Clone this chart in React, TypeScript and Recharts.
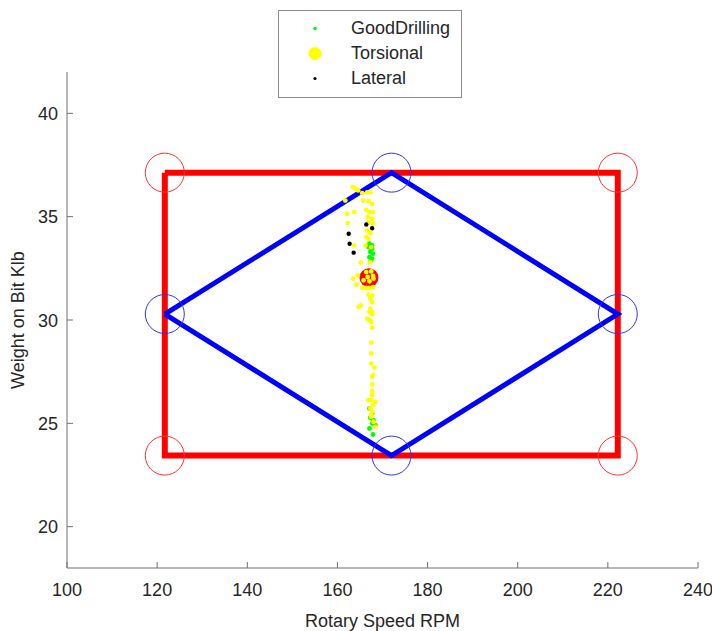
import { ScatterChart, Scatter, XAxis, YAxis, Legend } from 'recharts';

const FONT = '"Liberation Sans", Arial, sans-serif';
const TEXT = '#262626';
const AXIS = '#707070';

// axes
const rpmTicks = [100, 120, 140, 160, 180, 200, 220, 240];
const wobTicks = [20, 25, 30, 35, 40];

// operating window (rectangle) and diamond corners
const boxRpm = [121.7, 222.2, 222.2, 121.7, 121.7];
const boxWob = [37.13, 37.13, 23.44, 23.44, 37.13];
const diamondRpm = [121.7, 172, 222.2, 172, 121.7];
const diamondWob = [30.29, 37.13, 30.29, 23.44, 30.29];

// current operating point
const currentRpm = [167.0];
const currentWob = [32.05];

// scatter data
const goodRpm = [167.1, 167.7, 166.9, 167.1, 167.7, 167.3, 167.9, 167.1, 167.7, 167.3,
  167.1, 167.7, 167.3, 168.0, 167.7, 167.1, 167.9, 168.4];
const goodWob = [33.69, 33.61, 33.53, 33.53, 33.45, 33.29, 33.21, 33.04, 32.97, 32.84,
  25.72, 25.48, 25.27, 25.15, 25.0, 24.75, 24.46, 24.91];

const torsionalRpm = [163.4, 164.0, 164.6, 165.5, 166.6, 167.3, 161.75, 165.7, 166.9, 167.7,
  162.1, 163.7, 166.4, 167.1, 167.9, 166.7, 167.7, 166.9, 167.9, 162.3,
  166.6, 167.3, 166.4, 166.9, 163.7, 166.2, 167.5, 165.2, 167.3,
  166.4, 167.5, 166.7, 167.9, 165.8, 167.1, 168.0,
  163.5, 164.5, 164.2, 165.5, 166.4, 167.1, 167.9, 166.9, 167.7, 167.3,
  167.7, 164.7, 165.2, 167.3, 167.7, 167.1, 167.7, 166.6, 167.1, 167.5,
  167.7, 167.5, 167.5, 167.5, 168.2, 167.9, 167.7, 167.7, 167.7, 167.7,
  167.5, 168.4, 166.9, 167.9, 167.3, 167.7, 167.5, 168.0, 168.4, 167.5];
const torsionalWob = [36.43, 36.36, 36.27, 36.14, 36.18, 36.18, 35.78, 35.78, 35.75, 35.62,
  35.14, 35.22, 35.33, 35.22, 35.22, 34.98, 34.9, 34.73, 34.66, 34.69,
  34.33, 34.2, 34.01, 33.93, 33.61, 33.61, 33.53, 32.77, 32.8,
  32.32, 32.35, 32.08, 32.13, 31.92, 31.87, 32.0,
  32.0, 32.16, 31.71, 31.55, 31.55, 31.55, 31.59, 31.23, 31.19, 31.03,
  30.87, 30.63, 30.71, 30.55, 30.39, 30.39, 30.28, 30.07, 29.99, 29.9,
  29.63, 28.91, 28.38, 27.89, 27.7, 27.33, 27.25, 26.88, 26.56, 26.36,
  26.12, 26.04, 26.12, 25.88, 25.72, 25.56, 25.31, 25.07, 24.83, 25.4];

const lateralRpm = [166.4, 167.7, 162.5, 162.7, 163.6];
const lateralWob = [34.62, 34.44, 34.17, 33.69, 33.26];

const toPoints = (xs: number[], ys: number[]) => xs.map((x, i) => ({ x, y: ys[i] }));

const boxData = toPoints(boxRpm, boxWob);
const diamondData = toPoints(diamondRpm, diamondWob);
const boxCorners = boxData.slice(0, 4);
const diamondCorners = diamondData.slice(0, 4);
const currentData = toPoints(currentRpm, currentWob);
const goodData = toPoints(goodRpm, goodWob);
const torsionalData = toPoints(torsionalRpm, torsionalWob);
const lateralData = toPoints(lateralRpm, lateralWob);

const NoShape = () => <g />;

const ring = (color: string) => (p: any) => (
  <circle cx={p.cx} cy={p.cy} r={19.5} fill="none" stroke={color} strokeWidth={1} />
);
const dot = (color: string, r: number) => (p: any) => (
  <circle cx={p.cx} cy={p.cy} r={r} fill={color} stroke="none" />
);

const BottomTick = (p: any) => (
  <g>
    <line x1={p.x} x2={p.x} y1={p.y} y2={p.y - 6} stroke={AXIS} />
    <text x={p.x} y={p.y + 28} textAnchor="middle" fontSize={18} fontFamily={FONT} fill={TEXT}>
      {p.payload.value}
    </text>
  </g>
);
const TopTick = (p: any) => <line x1={p.x} x2={p.x} y1={p.y} y2={p.y + 6} stroke={AXIS} />;
const LeftTick = (p: any) => (
  <g>
    <line x1={p.x} x2={p.x + 6} y1={p.y} y2={p.y} stroke={AXIS} />
    <text x={p.x - 9} y={p.y + 6.5} textAnchor="end" fontSize={18} fontFamily={FONT} fill={TEXT}>
      {p.payload.value}
    </text>
  </g>
);
const RightTick = (p: any) => <line x1={p.x} x2={p.x - 6} y1={p.y} y2={p.y} stroke={AXIS} />;

const legendItems = [
  { name: 'GoodDrilling', color: '#00ff00', r: 1.8 },
  { name: 'Torsional', color: '#ffff00', r: 6.5 },
  { name: 'Lateral', color: '#000000', r: 1.6 },
];

const LegendBox = () => (
  <div
    style={{
      width: 184,
      height: 88,
      boxSizing: 'border-box',
      border: '1px solid #8c8c8c',
      background: '#fff',
      fontFamily: FONT,
      fontSize: 18,
      color: TEXT,
      paddingTop: 5,
    }}
  >
    {legendItems.map((it) => (
      <div key={it.name} style={{ height: 25, display: 'flex', alignItems: 'center' }}>
        <svg width={72} height={25} style={{ display: 'block' }}>
          <circle cx={36} cy={12.5} r={it.r} fill={it.color} />
        </svg>
        <span>{it.name}</span>
      </div>
    ))}
  </div>
);

export default function App() {
  return (
    <div style={{ position: 'absolute', left: 0, top: 0, background: '#fff' }}>
      <ScatterChart width={712} height={631} margin={{ top: 72, right: 14, bottom: 0, left: 0 }}>
        <XAxis
          xAxisId="b"
          type="number"
          dataKey="x"
          domain={[100, 240]}
          ticks={rpmTicks}
          allowDataOverflow
          height={63}
          tickSize={0}
          tickMargin={0}
          tickLine={false}
          axisLine={{ stroke: AXIS }}
          tick={<BottomTick />}
          label={{ value: 'Rotary Speed RPM', position: 'center', dy: 21, fontSize: 18, fontFamily: FONT, fill: TEXT }}
        />
        <XAxis
          xAxisId="t"
          orientation="top"
          type="number"
          dataKey="x"
          domain={[100, 240]}
          ticks={rpmTicks}
          height={0}
          tickSize={0}
          tickMargin={0}
          tickLine={false}
          axisLine={{ stroke: AXIS }}
          tick={<TopTick />}
        />
        <YAxis
          yAxisId="l"
          type="number"
          dataKey="y"
          domain={[18, 42]}
          ticks={wobTicks}
          allowDataOverflow
          width={67}
          tickSize={0}
          tickMargin={0}
          tickLine={false}
          axisLine={{ stroke: AXIS }}
          tick={<LeftTick />}
          label={{ value: 'Weight on Bit Klb', angle: -90, position: 'center', dx: -16, fontSize: 18, fontFamily: FONT, fill: TEXT }}
        />
        <YAxis
          yAxisId="r"
          orientation="right"
          type="number"
          dataKey="y"
          domain={[18, 42]}
          ticks={wobTicks}
          width={0}
          tickSize={0}
          tickMargin={0}
          tickLine={false}
          axisLine={{ stroke: AXIS }}
          tick={<RightTick />}
        />
        <Scatter
          xAxisId="b" yAxisId="l"
          data={boxData}
          line={{ stroke: '#ff0000', strokeWidth: 6, strokeLinejoin: 'miter' }}
          lineType="joint"
          shape={NoShape}
          legendType="none"
          isAnimationActive={false}
        />
        <Scatter xAxisId="b" yAxisId="l" data={boxCorners} shape={ring('#ff3030')} legendType="none" isAnimationActive={false} />
        <Scatter
          xAxisId="b" yAxisId="l"
          data={diamondData}
          line={{ stroke: '#0000ff', strokeWidth: 5, strokeLinejoin: 'miter' }}
          lineType="joint"
          shape={NoShape}
          legendType="none"
          isAnimationActive={false}
        />
        <Scatter xAxisId="b" yAxisId="l" data={diamondCorners} shape={ring('#3030ff')} legendType="none" isAnimationActive={false} />
        <Scatter xAxisId="b" yAxisId="l" data={currentData} shape={dot('#ff0000', 9.5)} legendType="none" isAnimationActive={false} />
        <Scatter xAxisId="b" yAxisId="l" name="GoodDrilling" data={goodData} shape={dot('#00ff00', 2.4)} isAnimationActive={false} />
        <Scatter xAxisId="b" yAxisId="l" name="Torsional" data={torsionalData} shape={dot('#ffff00', 2.4)} isAnimationActive={false} />
        <Scatter xAxisId="b" yAxisId="l" name="Lateral" data={lateralData} shape={dot('#000000', 2.2)} isAnimationActive={false} />
        <Legend
          layout="vertical"
          align="center"
          verticalAlign="middle"
          content={<LegendBox />}
          wrapperStyle={{ top: 10, left: 278, width: 184, height: 88 }}
        />
      </ScatterChart>
    </div>
  );
}
